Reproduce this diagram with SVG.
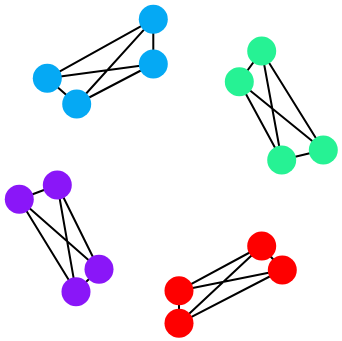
<svg xmlns="http://www.w3.org/2000/svg" width="342" height="341" viewBox="0 0 342 341">
<style>
.e{stroke:#000;stroke-width:2;fill:none}
.b{fill:#05a9f4}
.g{fill:#26f294}
.p{fill:#8a16f8}
.r{fill:#fe0000}
</style>
<rect width="342" height="341" fill="#fff"/>
<g id="connectors">
<path class="e" d="M153.3 19.3L47.3 78.3M153.3 19.3L76.7 104M153.3 19.3L153.3 64M153.3 64L47.3 78.3M153.3 64L76.7 104M47.3 78.3L76.7 104"/>
<path class="e" d="M261.7 51L239.3 81.7M261.7 51L281.7 160M261.7 51L323.3 150M239.3 81.7L281.7 160M239.3 81.7L323.3 150M281.7 160L323.3 150"/>
<path class="e" d="M57.3 185L19.3 199.3M57.3 185L99 269.3M57.3 185L76 291.7M19.3 199.3L99 269.3M19.3 199.3L76 291.7M99 269.3L76 291.7"/>
<path class="e" d="M261.7 246L282.3 270M261.7 246L179 290.7M261.7 246L179 323.3M282.3 270L179 290.7M282.3 270L179 323.3M179 290.7L179 323.3"/>
</g>
<g id="b1"><circle class="b" cx="153.3" cy="19.3" r="14.5"/></g>
<g id="b2"><circle class="b" cx="153.3" cy="64" r="14.5"/></g>
<g id="b3"><circle class="b" cx="47.3" cy="78.3" r="14.5"/></g>
<g id="b4"><circle class="b" cx="76.7" cy="104" r="14.5"/></g>
<g id="g1"><circle class="g" cx="261.7" cy="51" r="14.5"/></g>
<g id="g2"><circle class="g" cx="239.3" cy="81.7" r="14.5"/></g>
<g id="g3"><circle class="g" cx="281.7" cy="160" r="14.5"/></g>
<g id="g4"><circle class="g" cx="323.3" cy="150" r="14.5"/></g>
<g id="p1"><circle class="p" cx="57.3" cy="185" r="14.5"/></g>
<g id="p2"><circle class="p" cx="19.3" cy="199.3" r="14.5"/></g>
<g id="p3"><circle class="p" cx="99" cy="269.3" r="14.5"/></g>
<g id="p4"><circle class="p" cx="76" cy="291.7" r="14.5"/></g>
<g id="r1"><circle class="r" cx="261.7" cy="246" r="14.5"/></g>
<g id="r2"><circle class="r" cx="282.3" cy="270" r="14.5"/></g>
<g id="r3"><circle class="r" cx="179" cy="290.7" r="14.5"/></g>
<g id="r4"><circle class="r" cx="179" cy="323.3" r="14.5"/></g>
</svg>
